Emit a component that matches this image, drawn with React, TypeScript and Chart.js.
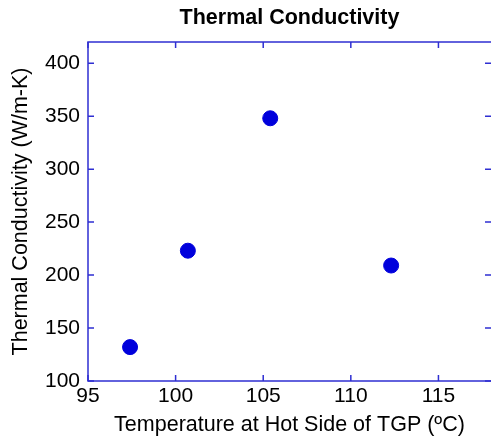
import React, { useEffect, useRef } from "react";
import { Chart, registerables } from "chart.js";

Chart.register(...registerables);

const temperatures = [97.4, 100.7, 105.4, 112.3];
const conductivity = [132, 223, 348, 209];
const xTicks = [95, 100, 105, 110, 115];
const yTicks = [100, 150, 200, 250, 300, 350, 400];

const FRAME = "#2f2fd2";
const POINT = "#0000dc";
const FONT = "'Liberation Sans', Arial, sans-serif";

const framePlugin = {
  id: "frameTicks",
  afterDraw(chart: any) {
    const { ctx, chartArea } = chart;
    const { left, right, top, bottom } = chartArea;
    const xs = chart.scales.x;
    const ys = chart.scales.y;
    const L = 6;
    ctx.save();
    ctx.strokeStyle = FRAME;
    ctx.lineWidth = 1.5;
    ctx.beginPath();
    ctx.moveTo(right + 1, top);
    ctx.lineTo(left, top);
    ctx.lineTo(left, bottom);
    ctx.lineTo(right + 1, bottom);
    ctx.stroke();
    ctx.beginPath();
    xTicks.forEach((v) => {
      const px = xs.getPixelForValue(v);
      ctx.moveTo(px, bottom);
      ctx.lineTo(px, bottom - L);
      ctx.moveTo(px, top);
      ctx.lineTo(px, top + L);
    });
    yTicks.forEach((v) => {
      const py = ys.getPixelForValue(v);
      ctx.moveTo(left, py);
      ctx.lineTo(left + L, py);
      ctx.moveTo(right, py);
      ctx.lineTo(right - L, py);
    });
    ctx.stroke();
    ctx.restore();
  },
};

export default function App() {
  const ref = useRef<HTMLCanvasElement>(null);
  useEffect(() => {
    document.body.style.margin = "0";
    const chart = new Chart(ref.current!, {
      type: "scatter",
      data: {
        datasets: [
          {
            data: temperatures.map((t, i) => ({ x: t, y: conductivity[i] })),
            backgroundColor: POINT,
            borderColor: POINT,
            pointRadius: 7.5,
            pointHoverRadius: 7.5,
          },
        ],
      },
      options: {
        animation: false,
        responsive: false,
        layout: { autoPadding: false, padding: { top: 0, right: 0, left: 0, bottom: 0 } },
        plugins: {
          legend: { display: false },
          tooltip: { enabled: false },
          title: {
            display: true,
            fullSize: false,
            text: "Thermal Conductivity",
            color: "#000",
            font: { family: FONT, size: 21.5, weight: "bold" },
            padding: { top: 5, bottom: 11.2 },
          },
        },
        scales: {
          x: {
            type: "linear",
            min: 95,
            max: 118,
            grid: { display: false, drawTicks: false },
            border: { display: false },
            afterBuildTicks: (s: any) => {
              s.ticks = xTicks.map((v) => ({ value: v }));
            },
            afterFit: (s: any) => {
              s.height = 59;
              s.paddingLeft = 0;
              s.paddingRight = 0;
            },
            ticks: {
              color: "#000",
              font: { family: FONT, size: 21 },
              padding: 3,
              maxRotation: 0,
            },
            title: {
              display: true,
              text: "Temperature at Hot Side of TGP (ºC)",
              color: "#000",
              font: { family: FONT, size: 21.5 },
              padding: { top: 0, bottom: 2 },
            },
          },
          y: {
            type: "linear",
            min: 100,
            max: 420,
            grid: { display: false, drawTicks: false },
            border: { display: false },
            afterBuildTicks: (s: any) => {
              s.ticks = yTicks.map((v) => ({ value: v }));
            },
            afterFit: (s: any) => {
              s.width = 88;
              s.paddingTop = 0;
              s.paddingBottom = 0;
            },
            ticks: {
              color: "#000",
              font: { family: FONT, size: 21 },
              padding: 8,
            },
            title: {
              display: true,
              text: "Thermal Conductivity (W/m-K)",
              color: "#000",
              font: { family: FONT, size: 21.5 },
              padding: { top: 8, bottom: 0 },
            },
          },
        },
      },
      plugins: [framePlugin],
    });
    return () => chart.destroy();
  }, []);
  return (
    <div style={{ width: 491, height: 440 }}>
      <canvas ref={ref} width={491} height={440} />
    </div>
  );
}
